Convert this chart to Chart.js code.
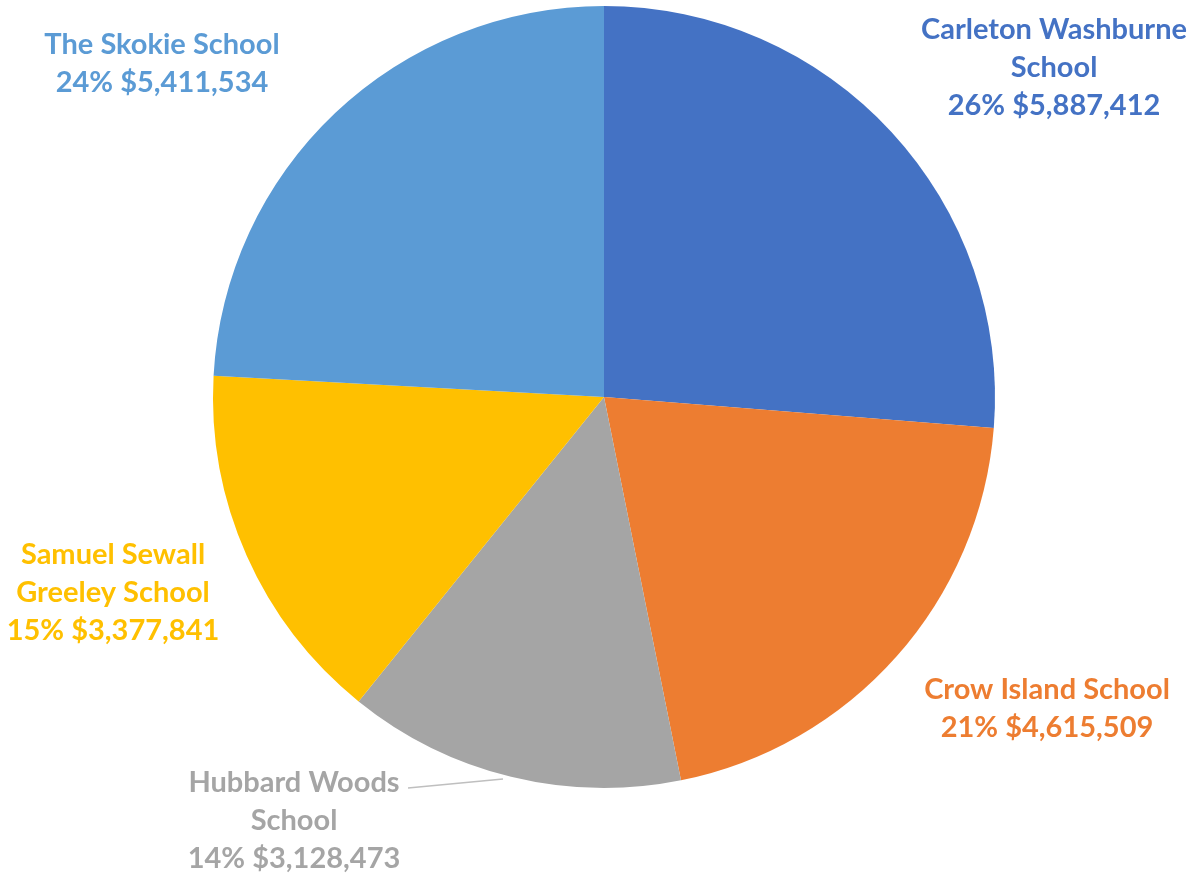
<!DOCTYPE html>
<html>
<head>
<meta charset="utf-8">
<script src="https://cdn.jsdelivr.net/npm/chart.js@4"></script>
<style>
  html, body { margin: 0; padding: 0; background: #fff; }
  #box { width: 1194px; height: 876px; }
</style>
</head>
<body>
<div id="box"><canvas id="myChart" width="1194" height="876"></canvas></div>
<script>
const schools = [
  ["Carleton Washburne", "School"],
  ["Crow Island School"],
  ["Hubbard Woods", "School"],
  ["Samuel Sewall", "Greeley School"],
  ["The Skokie School"],
];
const amounts = [5887412, 4615509, 3128473, 3377841, 5411534];
const colors = ["#4472C4", "#ED7D31", "#A5A5A5", "#FFC000", "#5B9BD5"];

// where each label block sits (center x, first line y)
const labelPos = [
  [1054, 30],
  [1047, 690],
  [294, 783],
  [113, 555],
  [162, 45],
];
const lineGap = 38;

const total = amounts.reduce((a, b) => a + b, 0);

const labelPlugin = {
  id: "outLabels",
  afterDatasetsDraw(chart) {
    const ctx = chart.ctx;
    ctx.save();
    ctx.font = "bold 29px Lato";
    ctx.textAlign = "center";
    ctx.textBaseline = "middle";

    // leader line for Hubbard Woods
    ctx.strokeStyle = "#BFBFBF";
    ctx.lineWidth = 1.5;
    ctx.beginPath();
    ctx.moveTo(408, 788);
    ctx.lineTo(503, 779);
    ctx.stroke();

    amounts.forEach(function (v, i) {
      let pct = Math.round((v / total) * 100) + "% $" + v.toLocaleString("en-US");
      let lines = schools[i].concat([pct]);
      ctx.fillStyle = colors[i];
      lines.forEach(function (t, j) {
        ctx.fillText(t, labelPos[i][0], labelPos[i][1] + j * lineGap);
      });
    });
    ctx.restore();
  },
};

new Chart(document.getElementById("myChart"), {
  type: "pie",
  data: {
    labels: schools.map((s) => s.join(" ")),
    datasets: [
      {
        data: amounts,
        backgroundColor: colors,
        borderWidth: 0,
      },
    ],
  },
  options: {
    responsive: false,
    animation: false,
    layout: { padding: { top: 6, bottom: 88, left: 213, right: 199 } },
    plugins: {
      legend: { display: false },
      tooltip: { enabled: false },
    },
  },
  plugins: [labelPlugin],
});
</script>
</body>
</html>
